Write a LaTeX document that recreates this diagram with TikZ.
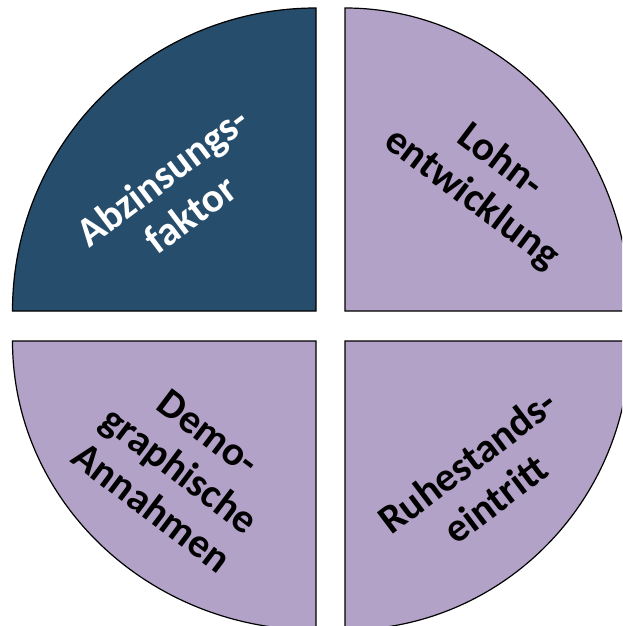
\documentclass[tikz,border=0pt]{standalone}
\usepackage{fontspec}
\setmainfont{Carlito}
\definecolor{darkblue}{RGB}{38,77,107}
\definecolor{lavender}{RGB}{179,162,199}
\begin{document}
\begin{tikzpicture}[x=1pt,y=1pt] % 1 unit = 1 px of the reference
\tikzstyle{mydark} = [fill=darkblue, draw=black, line width=1.2pt] % dark quarter style
\tikzstyle{mylight} = [fill=lavender, draw=black, line width=1.2pt] % light quarter style
\tikzstyle{mytext} = [align=center, font=\bfseries\fontsize{41}{47}\selectfont, inner sep=0pt] % label style
\useasboundingbox (0,0) rectangle (622,-626);
\clip (0,0) rectangle (622,-626); % правый и нижний края обрезаны
\filldraw[mydark] (316,-311) -- (12.5,-311) arc[start angle=180, end angle=90, x radius=303.5, y radius=303] -- cycle; % верхний левый
\filldraw[mylight] (345,-311) -- (345,-8) arc[start angle=90, end angle=0, x radius=285, y radius=303] -- cycle; % верхний правый
\filldraw[mylight] (316,-341) -- (12.5,-341) arc[start angle=180, end angle=270, x radius=303.5, y radius=289] -- cycle; % нижний левый
\filldraw[mylight] (345,-341) -- (345,-630) arc[start angle=270, end angle=360, x radius=285, y radius=289] -- cycle; % нижний правый
\node[mytext, text=white, rotate=37] (discount) at (176,-195) {Abzinsungs-\\faktor};
\node[mytext, rotate=-37] (wages) at (486,-180) {Lohn-\\entwicklung};
\node[mytext, rotate=-37] (demo) at (180,-470) {Demo-\\graphische\\Annahmen};
\node[mytext, rotate=37] (retire) at (481,-480) {Ruhestands-\\eintritt};
\end{tikzpicture}
\end{document}
